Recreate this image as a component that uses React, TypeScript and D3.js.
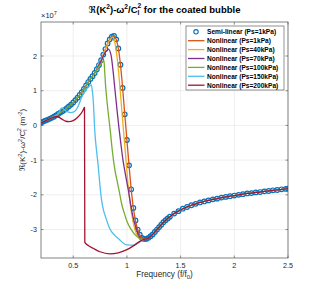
import * as d3 from "d3";

type Pt = [number, number];

// frequency (f/f0) vs Re(K^2)-w^2/Cl^2 in units of 1e7 m^-2
const xTicks = [0.5, 1, 1.5, 2, 2.5];
const yTicks = [-3, -2, -1, 0, 1, 2];

const semiLinear: Pt[] = [
  [0.2, 0.08], [0.22, 0.11], [0.24, 0.14], [0.26, 0.16], [0.28, 0.19], [0.3, 0.22],
  [0.32, 0.25], [0.34, 0.29], [0.36, 0.33], [0.38, 0.37], [0.4, 0.41], [0.42, 0.45],
  [0.44, 0.5], [0.46, 0.55], [0.48, 0.6], [0.5, 0.66], [0.52, 0.73], [0.54, 0.8],
  [0.56, 0.88], [0.58, 0.96], [0.6, 1.05], [0.62, 1.15], [0.64, 1.25], [0.66, 1.34],
  [0.68, 1.42], [0.7, 1.51], [0.72, 1.62], [0.74, 1.74], [0.76, 1.88], [0.78, 2.04],
  [0.8, 2.2], [0.82, 2.36], [0.84, 2.48], [0.86, 2.56], [0.88, 2.58], [0.9, 2.48],
  [0.92, 2.22], [0.94, 1.75], [0.96, 1.08], [0.98, 0.32], [1.0, -0.42], [1.02, -1.15],
  [1.04, -1.84], [1.06, -2.38], [1.08, -2.74], [1.1, -3.0], [1.12, -3.15], [1.14, -3.24],
  [1.16, -3.27], [1.18, -3.27], [1.2, -3.24], [1.22, -3.19], [1.24, -3.14], [1.26, -3.07],
  [1.28, -3.0], [1.3, -2.93], [1.32, -2.86], [1.34, -2.79], [1.36, -2.73], [1.38, -2.68],
  [1.4, -2.63], [1.44, -2.54], [1.48, -2.47], [1.52, -2.4], [1.56, -2.35], [1.6, -2.3],
  [1.64, -2.26], [1.68, -2.22], [1.72, -2.19], [1.76, -2.16], [1.8, -2.13], [1.84, -2.11],
  [1.88, -2.08], [1.92, -2.06], [1.96, -2.04], [2.0, -2.02], [2.04, -2.0], [2.08, -1.98],
  [2.12, -1.96], [2.16, -1.95], [2.2, -1.93], [2.24, -1.92], [2.28, -1.9], [2.32, -1.89],
  [2.36, -1.87], [2.4, -1.86], [2.44, -1.84], [2.48, -1.83], [2.5, -1.82],
];

// nonlinear Ps=1kPa lies on the semi-linear curve
const nl1: Pt[] = semiLinear;

const nl40: Pt[] = [
  [0.82, 2.34], [0.84, 2.46], [0.86, 2.53], [0.87, 2.54], [0.88, 2.5], [0.895, 2.26],
  [0.915, 1.78], [0.935, 1.1], [0.955, 0.34], [0.975, -0.4], [0.995, -1.14], [1.015, -1.84],
  [1.035, -2.37], [1.055, -2.73], [1.075, -3.0], [1.095, -3.16], [1.115, -3.25],
  [1.135, -3.29], [1.155, -3.29], [1.175, -3.27],
];

const nl70: Pt[] = [
  [0.76, 1.86], [0.78, 2.0], [0.8, 2.11], [0.815, 2.17], [0.827, 2.2], [0.852, 2.03],
  [0.87, 1.6], [0.889, 1.02], [0.908, 0.44], [0.926, -0.07], [0.945, -0.56], [0.963, -0.99],
  [0.982, -1.34], [1.013, -1.86], [1.044, -2.44], [1.066, -2.75], [1.091, -3.01],
  [1.112, -3.18], [1.138, -3.3], [1.168, -3.31],
];

const nl100: Pt[] = [
  [0.72, 1.6], [0.74, 1.7], [0.76, 1.78], [0.775, 1.84], [0.786, 1.87], [0.792, 1.62],
  [0.8, 1.2], [0.81, 0.84], [0.83, 0.25], [0.845, -0.15], [0.863, -0.7], [0.888, -1.28],
  [0.91, -1.62], [0.93, -1.92], [0.95, -2.25], [0.975, -2.52], [1.0, -2.76], [1.04, -3.0],
  [1.09, -3.19], [1.12, -3.26], [1.15, -3.29], [1.17, -3.28],
];

const nl150: Pt[] = [
  [0.36, 0.34], [0.375, 0.42], [0.39, 0.5], [0.405, 0.48], [0.425, 0.43], [0.45, 0.39],
  [0.475, 0.37], [0.5, 0.38], [0.525, 0.44], [0.55, 0.58], [0.575, 0.78], [0.6, 0.95],
  [0.625, 1.06], [0.65, 1.13], [0.668, 1.17], [0.678, 1.0], [0.686, 0.74], [0.702, -0.22],
  [0.717, -0.72], [0.733, -1.18], [0.748, -1.7], [0.762, -2.1], [0.782, -2.44],
  [0.805, -2.67], [0.838, -2.96], [0.888, -3.17], [0.934, -3.3], [0.97, -3.4], [1.0, -3.44],
  [1.055, -3.45], [1.09, -3.42], [1.12, -3.36], [1.15, -3.3], [1.17, -3.28],
];

const nl200: Pt[] = [
  [0.2, 0.07], [0.24, 0.13], [0.28, 0.19], [0.32, 0.24], [0.345, 0.26], [0.37, 0.23],
  [0.4, 0.17], [0.43, 0.12], [0.46, 0.11], [0.5, 0.14], [0.54, 0.23], [0.57, 0.33],
  [0.59, 0.43], [0.605, 0.52], [0.608, -3.37], [0.64, -3.46], [0.686, -3.54], [0.75, -3.64],
  [0.84, -3.7], [0.92, -3.67], [1.0, -3.58], [1.06, -3.47], [1.12, -3.34], [1.16, -3.28],
];

const legendLabels = [
  "Semi-linear (Ps=1kPa)",
  "Nonlinear (Ps=1kPa)",
  "Nonlinear (Ps=40kPa)",
  "Nonlinear (Ps=70kPa)",
  "Nonlinear (Ps=100kPa)",
  "Nonlinear (Ps=150kPa)",
  "Nonlinear (Ps=200kPa)",
];
const colors = ["#0072BD", "#D95319", "#EDB120", "#7E2F8E", "#77AC30", "#4DBEEE", "#A2142F"];

const FONT = "'Liberation Sans', Arial, 'DejaVu Sans', sans-serif";

const withBase = (own: Pt[]): Pt[] => [
  ...semiLinear.filter((d) => d[0] < own[0][0]),
  ...own,
  ...semiLinear.filter((d) => d[0] > own[own.length - 1][0]),
];

const ReLabel = ({ fs, tail }: { fs: number; tail: "title" | "axis" }) => {
  const s = fs * 0.7;
  return (
    <>
      <tspan>ℜ(K</tspan>
      <tspan dy={-0.4 * fs} fontSize={s}>2</tspan>
      <tspan dy={0.4 * fs}>)-ω</tspan>
      <tspan dy={-0.4 * fs} fontSize={s}>2</tspan>
      <tspan dy={0.4 * fs}>/C</tspan>
      <tspan dy={0.25 * fs} fontSize={s}>l</tspan>
      <tspan dx={-0.2 * fs} dy={-0.7 * fs} fontSize={s}>2</tspan>
      {tail === "title" ? (
        <tspan dy={0.45 * fs}> for the coated bubble</tspan>
      ) : (
        <>
          <tspan dy={0.45 * fs}> (m</tspan>
          <tspan dy={-0.4 * fs} fontSize={s}>-2</tspan>
          <tspan dy={0.4 * fs}>)</tspan>
        </>
      )}
    </>
  );
};

export default function App() {
  const width = 319;
  const height = 290;
  const left = 41, right = 288, top = 22, bottom = 258;

  const x = d3.scaleLinear().domain([0.2, 2.5]).range([left, right]);
  const y = d3.scaleLinear().domain([-3.82, 2.98]).range([bottom, top]);
  const line = d3
    .line<Pt>()
    .x((d) => x(d[0]))
    .y((d) => y(d[1]))
    .curve(d3.curveMonotoneX);

  const lines: Pt[][] = [nl1, withBase(nl40), withBase(nl70), withBase(nl100), withBase(nl150), withBase(nl200)];
  const tick = 2.5;
  const axisColor = "#4d4d4d";

  return (
    <svg
      width={width}
      height={height}
      style={{ position: "absolute", left: 0, top: 0, background: "#fff" }}
      fontFamily={FONT}
    >
      <defs>
        <clipPath id="plot">
          <rect x={left} y={top} width={right - left} height={bottom - top} />
        </clipPath>
      </defs>
      <rect x={left} y={top} width={right - left} height={bottom - top} fill="#fff" />

      {/* grid */}
      {xTicks.map((t) => (
        <line key={"gx" + t} x1={x(t)} x2={x(t)} y1={top} y2={bottom} stroke="#e4e4e4" strokeWidth={0.6} />
      ))}
      {yTicks.map((t) => (
        <line key={"gy" + t} x1={left} x2={right} y1={y(t)} y2={y(t)} stroke="#e4e4e4" strokeWidth={0.6} />
      ))}

      <g clipPath="url(#plot)">
        {semiLinear.map((d, i) => (
          <circle key={"m" + i} cx={x(d[0])} cy={y(d[1])} r={2.3} fill="none" stroke={colors[0]} strokeWidth={1.2} />
        ))}
        {lines.map((pts, i) => (
          <path key={"l" + i} d={line(pts) ?? ""} fill="none" stroke={colors[i + 1]} strokeWidth={1.3} strokeLinejoin="round" />
        ))}
      </g>

      {/* axes box and ticks */}
      <rect x={left} y={top} width={right - left} height={bottom - top} fill="none" stroke={axisColor} strokeWidth={0.7} />
      {xTicks.map((t) => (
        <g key={"tx" + t}>
          <line x1={x(t)} x2={x(t)} y1={bottom} y2={bottom - tick} stroke={axisColor} strokeWidth={0.6} />
          <line x1={x(t)} x2={x(t)} y1={top} y2={top + tick} stroke={axisColor} strokeWidth={0.6} />
          <text x={x(t)} y={bottom + 10} fontSize={7.2} textAnchor="middle" fill="#262626">
            {t}
          </text>
        </g>
      ))}
      {yTicks.map((t) => (
        <g key={"ty" + t}>
          <line x1={left} x2={left + tick} y1={y(t)} y2={y(t)} stroke={axisColor} strokeWidth={0.6} />
          <line x1={right} x2={right - tick} y1={y(t)} y2={y(t)} stroke={axisColor} strokeWidth={0.6} />
          <text x={left - 4} y={y(t) + 2.5} fontSize={7.2} textAnchor="end" fill="#262626">
            {t}
          </text>
        </g>
      ))}

      {/* exponent */}
      <text x={left} y={18} fontSize={7.5} fill="#262626">
        ×10<tspan dy={-3.2} fontSize={5.5}>7</tspan>
      </text>

      {/* title */}
      <text x={(left + right) / 2} y={12.5} fontSize={9.5} fontWeight="bold" textAnchor="middle" fill="#000">
        <ReLabel fs={9.5} tail="title" />
      </text>

      {/* x label */}
      <text x={(left + right) / 2} y={277} fontSize={8.2} textAnchor="middle" fill="#262626">
        Frequency (f/f<tspan dy={2.2} fontSize={5.8}>0</tspan>
        <tspan dy={-2.2}>)</tspan>
      </text>

      {/* y label */}
      <text
        transform={`translate(25,${(top + bottom) / 2}) rotate(-90)`}
        fontSize={8}
        textAnchor="middle"
        fill="#262626"
      >
        <ReLabel fs={8} tail="axis" />
      </text>

      {/* legend */}
      <g>
        <rect x={186} y={26} width={98} height={64} fill="#fff" stroke="#262626" strokeWidth={0.5} />
        {legendLabels.map((lab, i) => {
          const cy = 31.8 + i * 8.9;
          return (
            <g key={lab}>
              {i === 0 ? (
                <circle cx={196} cy={cy} r={2.2} fill="none" stroke={colors[0]} strokeWidth={1.1} />
              ) : (
                <line x1={188} x2={204.5} y1={cy} y2={cy} stroke={colors[i]} strokeWidth={1.3} />
              )}
              <text x={207} y={cy + 2.4} fontSize={6.6} fontWeight="bold" fill="#000">
                {lab}
              </text>
            </g>
          );
        })}
      </g>
    </svg>
  );
}
